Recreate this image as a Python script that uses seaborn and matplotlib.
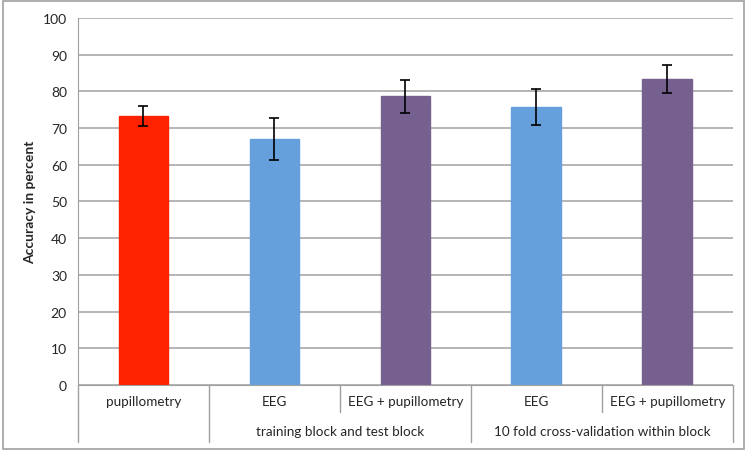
import matplotlib
matplotlib.use("Agg")
import matplotlib.pyplot as plt
import seaborn as sns
import pandas as pd
from matplotlib.patches import Rectangle

# values
conditions = ["pupillometry", "EEG", "EEG + pupillometry", "EEG", "EEG + pupillometry"]
accuracy = [73.3, 67.0, 78.7, 75.7, 83.4]
errors = [2.8, 5.7, 4.5, 4.9, 3.8]
groups = ["training block and test block", "10 fold cross-validation within block"]
bar_colors = ["#ff2200", "#65a0dc", "#76608f", "#65a0dc", "#76608f"]
yticks = list(range(0, 101, 10))

df = pd.DataFrame({"pos": [str(i) for i in range(len(conditions))],
                   "acc": accuracy})

sns.set_style("white")
plt.rcParams["font.family"] = ["Lato", "DejaVu Sans"]

fig = plt.figure(figsize=(7.47, 4.52), dpi=100)
ax = fig.add_axes([0.1044, 0.146, 0.8766, 0.812])

sns.barplot(data=df, x="pos", y="acc", hue="pos", palette=bar_colors,
            legend=False, width=0.38, ax=ax, saturation=1, errorbar=None)
for p in ax.patches:
    p.set_edgecolor(p.get_facecolor())
ax.errorbar(range(len(accuracy)), accuracy, yerr=errors, fmt="none",
            ecolor="black", elinewidth=1.2, capsize=3.5, capthick=1.2, zorder=5)

ax.set_xlim(-0.5, len(conditions) - 0.5)
ax.set_ylim(0, 100)
ax.set_yticks(yticks)
ax.yaxis.grid(True, color="#a8a8a8", linewidth=1.2)
ax.set_axisbelow(True)
for s in ["top", "right"]:
    ax.spines[s].set_visible(False)
ax.spines["left"].set_color("#a0a0a0")
ax.spines["bottom"].set_color("#a0a0a0")
ax.tick_params(axis="y", length=4, color="#a0a0a0", labelsize=10, pad=4)
ax.tick_params(axis="x", length=0)
ax.set_xticklabels([])
ax.set_xlabel("")
ax.set_ylabel("Accuracy in percent", fontsize=10, fontweight="bold", labelpad=5)

# category table under the axis
tr = ax.get_xaxis_transform()
row1, row2 = -0.074, -0.155
for x, full in [(-0.5, True), (0.5, True), (1.5, False), (2.5, True), (3.5, False), (4.5, True)]:
    ax.plot([x, x], [0, row2 if full else row1], transform=tr, color="#a0a0a0",
            linewidth=1, clip_on=False)
for i, name in enumerate(conditions):
    ax.text(i, -0.044, name, transform=tr, ha="center", va="center", fontsize=9.7)
for cx, g in zip([1.5, 3.5], groups):
    ax.text(cx, -0.125, g, transform=tr, ha="center", va="center", fontsize=9.7)

# outer frame
fig.patches.append(Rectangle((0.004, 0.005), 0.992, 0.99, transform=fig.transFigure,
                             fill=False, edgecolor="#a0a0a0", linewidth=1.2))

fig.savefig("out.png", dpi=100)
